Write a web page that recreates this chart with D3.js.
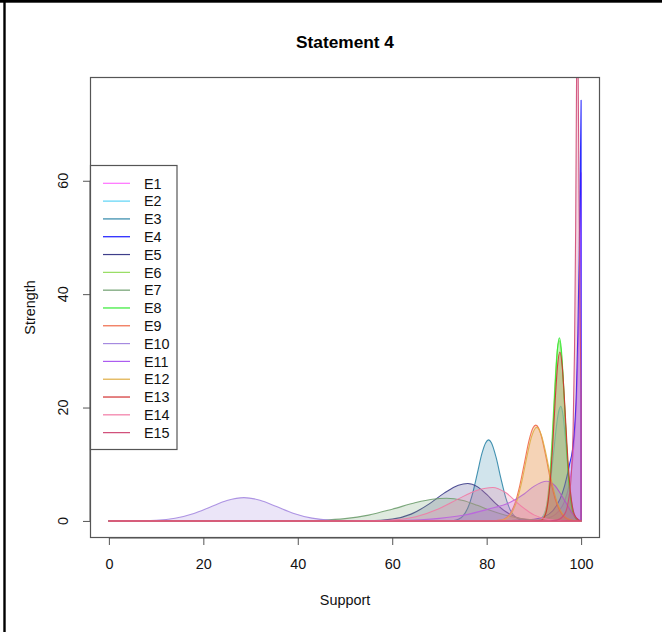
<!DOCTYPE html>
<html>
<head>
<meta charset="utf-8">
<script src="https://cdn.jsdelivr.net/npm/d3@7"></script>
<style>
  body { margin: 0; background: #fff; }
  svg { display: block; font-family: "Liberation Sans", Arial, sans-serif; }
</style>
</head>
<body>
<svg id="chart" width="662" height="632"></svg>
<script>
// Experts and their colours
const experts = ["E1","E2","E3","E4","E5","E6","E7","E8","E9","E10","E11","E12","E13","E14","E15"];
const palette = ["#ff70ff","#5cd4f6","#2f86a8","#1a1aff","#3e3e8a","#95dd5e","#6f9f6f","#33ea33",
                 "#f06a48","#a58ae0","#ac5cf0","#dfae45","#d23030","#f27aa4","#cf4a76"];

// Strength of support, as [support, strength] pairs
const curveE1  = [[0,0],[85,0],[90,0.1],[93,0.5],[95,1.5],[96.5,3.5],[97.5,6.5],[98.3,11.5],[98.9,19],[99.3,28],[99.6,38],[99.8,48],[100,61.4]];
const curveE2  = [[0,0],[88,0],[90.7,0.08],[91.7,0.58],[92.7,2.73],[93.7,8.3],[94.2,12.25],[94.7,16.2],[95.2,19.1],[95.7,20.2],[96.2,18.5],[96.7,14.3],[97.2,9.25],[97.7,5.05],[98.2,2.3],[98.7,0.89],[99.7,0.08],[100,0]];
const curveE3  = [[0,0],[70,0],[73,0.08],[74,0.3],[75,0.91],[76,2.29],[77,4.79],[78,8.3],[79,11.9],[79.8,13.8],[80.4,14.3],[81,13.8],[82,11.2],[83,7.55],[84,4.2],[85,1.93],[86,0.74],[87,0.23],[88.5,0.03],[91,0],[100,0]];
const curveE4  = [[0,0],[82,0],[86,0.1],[90,0.3],[92,0.7],[94,1.8],[95.5,3.8],[96.5,6.2],[97.5,9.8],[98.4,14.2],[99,23],[99.3,33],[99.6,47],[99.8,60],[100,74.2]];
const curveE5  = [[0,0],[45,0],[55,0.04],[60,0.32],[64,1.2],[68,3.1],[71,4.9],[74,6.3],[76,6.6],[78,6.05],[80,4.67],[82,3.0],[84,1.65],[86,0.75],[88,0.29],[91,0.05],[95,0],[100,0]];
const curveE6  = [[0,0],[89,0],[91.35,0.12],[92.35,1.4],[92.85,3.6],[93.35,7.95],[93.85,14.6],[94.35,22.5],[94.85,29.2],[95.35,31.8],[95.85,29.2],[96.35,22.5],[96.85,14.6],[97.35,7.95],[97.85,3.6],[98.35,1.4],[99.35,0.12],[100,0]];
const curveE7  = [[0,0],[30,0],[40,0.03],[45,0.12],[50,0.4],[55,1.03],[60,2.07],[65,3.24],[68.5,3.82],[71.5,4.0],[75,3.59],[78,2.75],[81,1.79],[84,1.0],[87,0.47],[90,0.19],[94,0.04],[98,0],[100,0]];
const curveE8  = [[0,0],[89,0],[91.5,0.1],[92.5,1.34],[93,3.65],[93.5,8.25],[94,15.4],[94.5,23.8],[95,30.4],[95.4,32.3],[95.8,30.4],[96.3,23.8],[96.8,15.4],[97.3,8.25],[97.8,3.65],[98.3,1.34],[99.3,0.1],[100,0]];
const curveE9  = [[0,0],[80,0],[83,0.15],[84,0.48],[85,1.35],[86,3.15],[87,6.2],[88,10.25],[89,14.3],[89.8,16.4],[90.4,16.9],[91,16.4],[91.5,15.2],[92.5,11.5],[93.5,7.3],[94.5,3.9],[95.5,1.77],[96.5,0.67],[97.5,0.21],[99,0.02],[100,0]];
const curveE10 = [[0,0],[5,0.01],[10,0.12],[14,0.47],[18,1.31],[21.5,2.46],[25,3.61],[28.6,4.12],[32,3.66],[35.5,2.53],[39,1.37],[43,0.5],[47,0.13],[52,0.02],[58,0],[100,0]];
const curveE11 = [[0,0],[50,0],[60,0.05],[66,0.2],[70,0.45],[75,1.0],[80,2.0],[85,3.3],[88,4.8],[90,6.1],[92.7,7.0],[94.5,6.2],[96,4.3],[97,2.9],[98,1.5],[99,0.5],[100,0]];
const curveE12 = [[0,0],[80,0],[83.5,0.21],[84.5,0.65],[85.5,1.73],[86.5,3.83],[87.5,7.16],[88.5,11.25],[89.5,14.85],[90.6,16.5],[91.6,15.1],[92.6,11.7],[93.6,7.55],[94.6,4.1],[95.6,1.88],[96.6,0.72],[97.6,0.24],[99,0.02],[100,0]];
const curveE13 = [[0,0],[89,0],[91.5,0.12],[92.5,1.3],[93,3.4],[93.5,7.4],[94,13.6],[94.5,21.1],[95,27.3],[95.5,29.8],[96,27.3],[96.5,21.1],[97,13.6],[97.5,7.4],[98,3.4],[98.5,1.3],[99.5,0.12],[100,0]];
const curveE14 = [[0,0],[50,0],[55,0.03],[60,0.17],[65,0.74],[70,2.18],[74,3.89],[78,5.42],[81.3,5.9],[84,5.0],[87,2.83],[90,1.07],[93,0.27],[96,0.04],[98,0],[100,0]];
const curveE15 = [[0,0],[93,0],[95,0.2],[96.5,1.2],[97.3,3.5],[97.9,8],[98.3,16],[98.6,30],[98.85,52],[99.05,80],[99.2,95],[99.35,82],[99.55,58],[99.75,38],[100,22]];

const xTicks = [0, 20, 40, 60, 80, 100];
const yTicks = [0, 20, 40, 60];
const chartTitle = "Statement 4";
const xTitle = "Support";
const yTitle = "Strength";

const curves = [curveE1, curveE2, curveE3, curveE4, curveE5, curveE6, curveE7, curveE8,
                curveE9, curveE10, curveE11, curveE12, curveE13, curveE14, curveE15];

const svg = d3.select("#chart");
const plot = { left: 90, right: 600, top: 77, bottom: 538 };

const x = d3.scaleLinear().domain([-4, 104]).range([plot.left, plot.right]);
const y = d3.scaleLinear().domain([-3.01, 78.3]).range([plot.bottom, plot.top]);

// frame lines at the top and left of the page
svg.append("rect").attr("x", 0).attr("y", 0).attr("width", 662).attr("height", 2.7).attr("fill", "#000");
svg.append("rect").attr("x", 3.3).attr("y", 0).attr("width", 2.4).attr("height", 632).attr("fill", "#000");

// clip to plotting region
svg.append("defs").append("clipPath").attr("id", "plotClip")
  .append("rect")
  .attr("x", plot.left).attr("y", plot.top)
  .attr("width", plot.right - plot.left).attr("height", plot.bottom - plot.top);

const area = d3.area()
  .x(d => x(d[0]))
  .y0(y(0))
  .y1(d => y(d[1]))
  .curve(d3.curveMonotoneX);

const g = svg.append("g").attr("clip-path", "url(#plotClip)");
curves.forEach((c, i) => {
  g.append("path")
    .attr("d", area(c))
    .attr("fill", palette[i])
    .attr("fill-opacity", 0.22)
    .attr("stroke", palette[i])
    .attr("stroke-opacity", 0.9)
    .attr("stroke-width", 1.1)
    .attr("stroke-linejoin", "round");
});

// plot box
svg.append("rect")
  .attr("x", plot.left + 0.5).attr("y", plot.top + 0.5)
  .attr("width", plot.right - plot.left - 1).attr("height", plot.bottom - plot.top - 1)
  .attr("fill", "none").attr("stroke", "#555").attr("stroke-width", 1.2);

// x axis
const xAxis = svg.append("g")
  .attr("transform", `translate(0,${plot.bottom})`)
  .call(d3.axisBottom(x).tickValues(xTicks).tickSize(7).tickPadding(14).tickFormat(d3.format("d")));
xAxis.select(".domain").remove();
xAxis.append("line")
  .attr("x1", x(xTicks[0])).attr("x2", x(xTicks[xTicks.length - 1]))
  .attr("stroke", "#555");
xAxis.selectAll(".tick line").attr("stroke", "#555");
xAxis.selectAll(".tick text").attr("font-size", 14.4).attr("fill", "#111")
  .attr("font-family", "Liberation Sans, Arial, sans-serif");

// y axis
const yAxis = svg.append("g")
  .attr("transform", `translate(${plot.left},0)`)
  .call(d3.axisLeft(y).tickValues(yTicks).tickSize(7).tickFormat(""));
yAxis.select(".domain").remove();
yAxis.append("line")
  .attr("y1", y(yTicks[0])).attr("y2", y(yTicks[yTicks.length - 1]))
  .attr("stroke", "#555");
yAxis.selectAll(".tick line").attr("stroke", "#555");

svg.append("g").selectAll("text")
  .data(yTicks)
  .join("text")
  .attr("transform", d => `translate(68,${y(d)}) rotate(-90)`)
  .attr("text-anchor", "middle")
  .attr("font-size", 14.4)
  .attr("fill", "#111")
  .text(d => d);

// titles
svg.append("text")
  .attr("x", (plot.left + plot.right) / 2).attr("y", 48)
  .attr("text-anchor", "middle")
  .attr("font-size", 17.3).attr("font-weight", "bold").attr("fill", "#000")
  .text(chartTitle);

svg.append("text")
  .attr("x", (plot.left + plot.right) / 2).attr("y", 605)
  .attr("text-anchor", "middle")
  .attr("font-size", 14.4).attr("fill", "#111")
  .text(xTitle);

svg.append("text")
  .attr("transform", `translate(35,${(plot.top + plot.bottom) / 2}) rotate(-90)`)
  .attr("text-anchor", "middle")
  .attr("font-size", 14.4).attr("fill", "#111")
  .text(yTitle);

// legend
const legend = svg.append("g");
legend.append("rect")
  .attr("x", 90.5).attr("y", 165.5).attr("width", 86.5).attr("height", 284)
  .attr("fill", "#fff").attr("stroke", "#555").attr("stroke-width", 1.2);

const rowY = i => 183.3 + i * 17.81;
const rows = legend.selectAll("g.row").data(experts).join("g").attr("class", "row");
rows.append("line")
  .attr("x1", 103).attr("x2", 130)
  .attr("y1", (d, i) => rowY(i)).attr("y2", (d, i) => rowY(i))
  .attr("stroke", (d, i) => palette[i]).attr("stroke-width", 1.2);
rows.append("text")
  .attr("x", 144).attr("y", (d, i) => rowY(i) + 5.2)
  .attr("font-size", 14.4).attr("fill", "#111")
  .text(d => d);
</script>
</body>
</html>
